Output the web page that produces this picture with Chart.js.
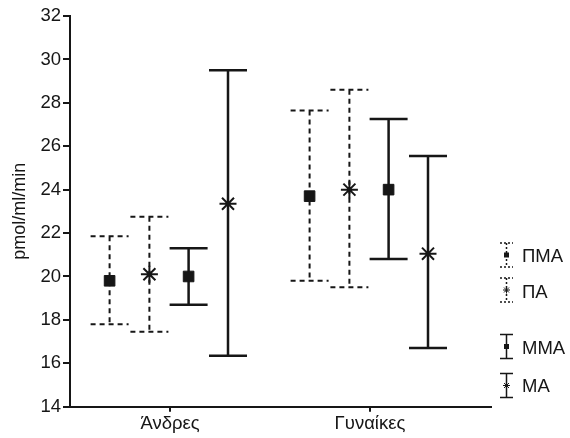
<!DOCTYPE html>
<html lang="el">
<head>
<meta charset="UTF-8">
<title>pmol/ml/min</title>
<script src="https://cdn.jsdelivr.net/npm/chart.js"></script>
<style>
  body { margin: 0; background: #fff; }
  #wrap { width: 570px; height: 438px; }
</style>
</head>
<body>
<div id="wrap"><canvas id="chart"></canvas></div>
<script>
// categories
const groups = ['Άνδρες', 'Γυναίκες'];
const seriesNames = ['ΠΜΑ', 'ΠΑ', 'ΜΜΑ', 'ΜΑ'];
const yTicks = [14, 16, 18, 20, 22, 24, 26, 28, 30, 32];

// values: mean, lower and upper end of the bar
const pmaMean = [19.8, 23.7];
const pmaLow  = [17.8, 19.8];
const pmaHigh = [21.85, 27.65];

const paMean = [20.1, 24.0];
const paLow  = [17.45, 19.5];
const paHigh = [22.75, 28.6];

const mmaMean = [20.0, 24.0];
const mmaLow  = [18.7, 20.8];
const mmaHigh = [21.3, 27.25];

const maMean = [23.35, 21.05];
const maLow  = [16.35, 16.7];
const maHigh = [29.5, 25.55];

const FONT = "'Liberation Sans', Arial, sans-serif";
const INK = '#161616';

// horizontal place of each series inside a group (x units, 1 group = 1 unit)
const offsets = [-0.302, -0.103, 0.093, 0.29];
const dashed = [true, true, false, false];
const markers = ['rect', 'star', 'rect', 'star'];

const seriesData = [
  [pmaMean, pmaLow, pmaHigh],
  [paMean, paLow, paHigh],
  [mmaMean, mmaLow, mmaHigh],
  [maMean, maLow, maHigh]
];

const datasets = seriesNames.map((name, s) => {
  const [mean, lo, hi] = seriesData[s];
  return {
    label: name,
    data: groups.map((g, i) => ({ x: i + 0.5 + offsets[s], y: mean[i], lo: lo[i], hi: hi[i] })),
    pointStyle: markers[s],
    pointRadius: markers[s] === 'rect' ? 7.5 : 8.5,
    pointBorderWidth: markers[s] === 'rect' ? 1 : 2,
    pointBackgroundColor: INK,
    pointBorderColor: INK,
    showLine: false,
    dashedBar: dashed[s]
  };
});

// draws the bars with caps under the markers
const errorBars = {
  id: 'errorBars',
  beforeDatasetsDraw(chart) {
    const ctx = chart.ctx;
    const y = chart.scales.y;
    chart.data.datasets.forEach((ds, di) => {
      const meta = chart.getDatasetMeta(di);
      meta.data.forEach((pt, i) => {
        const d = ds.data[i];
        const px = pt.x;
        const top = y.getPixelForValue(d.hi);
        const bot = y.getPixelForValue(d.lo);
        const half = 19;
        ctx.save();
        ctx.strokeStyle = INK;
        if (ds.dashedBar) {
          ctx.lineWidth = 2;
          ctx.setLineDash([5, 4]);
        } else {
          ctx.lineWidth = 2.5;
        }
        ctx.beginPath();
        ctx.moveTo(px, top); ctx.lineTo(px, bot);
        ctx.moveTo(px - half, top); ctx.lineTo(px + half, top);
        ctx.moveTo(px - half, bot); ctx.lineTo(px + half, bot);
        ctx.stroke();
        ctx.restore();
      });
    });
  }
};

// legend on the right with small bar icons
const legendItems = [
  { y: 255, textY: 257 },
  { y: 290, textY: 293 },
  { y: 346.5, textY: 349 },
  { y: 385.5, textY: 387 }
];
const sideLegend = {
  id: 'sideLegend',
  afterDraw(chart) {
    const ctx = chart.ctx;
    const ix = 506.5;
    chart.data.datasets.forEach((ds, s) => {
      const it = legendItems[s];
      const h = 12, w = 6.5;
      ctx.save();
      ctx.strokeStyle = INK;
      ctx.fillStyle = INK;
      ctx.lineWidth = 1.5;
      if (ds.dashedBar) ctx.setLineDash([2, 2]);
      ctx.beginPath();
      ctx.moveTo(ix, it.y - h); ctx.lineTo(ix, it.y + h);
      ctx.moveTo(ix - w, it.y - h); ctx.lineTo(ix + w, it.y - h);
      ctx.moveTo(ix - w, it.y + h); ctx.lineTo(ix + w, it.y + h);
      ctx.stroke();
      ctx.setLineDash([]);
      if (ds.pointStyle === 'rect') {
        ctx.fillRect(ix - 2.5, it.y - 2.5, 5, 5);
      } else {
        ctx.lineWidth = 1;
        Chart.helpers.drawPoint(ctx, { pointStyle: 'star', radius: 3.5, borderWidth: 1 }, ix, it.y);
      }
      ctx.font = '18.5px ' + FONT;
      ctx.textBaseline = 'middle';
      ctx.textAlign = 'left';
      ctx.fillText(ds.label, 522, it.textY);
      ctx.restore();
    });
  }
};

new Chart(document.getElementById('chart'), {
  type: 'scatter',
  data: { datasets },
  plugins: [errorBars, sideLegend],
  options: {
    responsive: true,
    maintainAspectRatio: false,
    animation: false,
    layout: { padding: { top: 16, right: 79, bottom: 0, left: 0 } },
    plugins: {
      legend: { display: false },
      tooltip: { enabled: false }
    },
    scales: {
      x: {
        type: 'linear',
        min: 0,
        max: 2.105,
        afterBuildTicks: s => { s.ticks = groups.map((g, i) => ({ value: i + 0.5 })); },
        afterFit: s => { s.height = 31.3; },
        ticks: {
          callback: v => groups[Math.floor(v)],
          font: { family: FONT, size: 18.5 },
          color: INK,
          padding: 1
        },
        grid: { drawOnChartArea: false, tickLength: 5, color: INK, lineWidth: 2 },
        border: { color: INK, width: 2 }
      },
      y: {
        min: 14,
        max: 32,
        afterBuildTicks: s => { s.ticks = yTicks.map(v => ({ value: v })); },
        afterFit: s => { s.width = 70; },
        ticks: {
          font: { family: FONT, size: 18.5 },
          color: INK,
          padding: 2
        },
        grid: { drawOnChartArea: false, tickLength: 7, color: INK, lineWidth: 2 },
        border: { color: INK, width: 2 },
        title: {
          display: true,
          text: 'pmol/ml/min',
          font: { family: FONT, size: 18 },
          color: INK,
          padding: { top: 9, bottom: 0 }
        }
      }
    }
  }
});
</script>
</body>
</html>
